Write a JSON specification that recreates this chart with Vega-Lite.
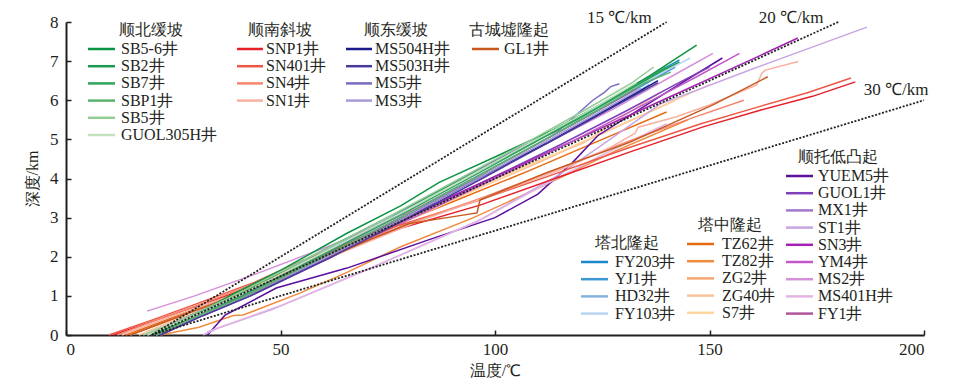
{
  "$schema": "https://vega.github.io/schema/vega-lite/v6.json",
  "width": 858,
  "height": 313,
  "autosize": "none",
  "padding": {"left": 66, "top": 22, "right": 35, "bottom": 52},
  "background": "white",
  "config": {"view": {"stroke": null}},
  "datasets": {
    "nb": [
      {"w":"SB5-6井","T":20,"z":0},{"w":"SB5-6井","T":28,"z":0.4},{"w":"SB5-6井","T":39,"z":1.05},{"w":"SB5-6井","T":50,"z":1.65},{"w":"SB5-6井","T":65.5,"z":2.6},{"w":"SB5-6井","T":78,"z":3.3},{"w":"SB5-6井","T":87,"z":3.9},{"w":"SB5-6井","T":101,"z":4.6},{"w":"SB5-6井","T":106,"z":4.86},{"w":"SB5-6井","T":113.5,"z":5.24},{"w":"SB5-6井","T":125,"z":5.9},{"w":"SB5-6井","T":136,"z":6.62},{"w":"SB5-6井","T":141,"z":6.98},{"w":"SB5-6井","T":147,"z":7.41},
      {"w":"SB2井","T":19,"z":0},{"w":"SB2井","T":29,"z":0.45},{"w":"SB2井","T":40,"z":1.02},{"w":"SB2井","T":57,"z":2.0},{"w":"SB2井","T":74,"z":2.95},{"w":"SB2井","T":90,"z":3.85},{"w":"SB2井","T":105,"z":4.7},{"w":"SB2井","T":119,"z":5.5},{"w":"SB2井","T":131,"z":6.25},{"w":"SB2井","T":139,"z":6.75},{"w":"SB2井","T":143,"z":6.98},
      {"w":"SB7井","T":20,"z":0},{"w":"SB7井","T":30,"z":0.45},{"w":"SB7井","T":41,"z":1.0},{"w":"SB7井","T":59,"z":2.0},{"w":"SB7井","T":76,"z":2.95},{"w":"SB7井","T":93,"z":3.95},{"w":"SB7井","T":108,"z":4.85},{"w":"SB7井","T":122,"z":5.7},{"w":"SB7井","T":133,"z":6.4},{"w":"SB7井","T":140,"z":6.85},
      {"w":"SBP1井","T":21,"z":0},{"w":"SBP1井","T":31,"z":0.5},{"w":"SBP1井","T":42,"z":1.0},{"w":"SBP1井","T":60,"z":2.0},{"w":"SBP1井","T":78,"z":3.0},{"w":"SBP1井","T":95,"z":4.0},{"w":"SBP1井","T":110,"z":4.9},{"w":"SBP1井","T":124,"z":5.75},{"w":"SBP1井","T":135,"z":6.45},{"w":"SBP1井","T":141,"z":6.72},
      {"w":"SB5井","T":18,"z":0},{"w":"SB5井","T":28,"z":0.45},{"w":"SB5井","T":39,"z":1.0},{"w":"SB5井","T":57,"z":2.0},{"w":"SB5井","T":74,"z":2.95},{"w":"SB5井","T":91,"z":3.95},{"w":"SB5井","T":107,"z":4.9},{"w":"SB5井","T":121,"z":5.75},{"w":"SB5井","T":132,"z":6.45},{"w":"SB5井","T":137,"z":6.85},
      {"w":"GUOL305H井","T":19,"z":0},{"w":"GUOL305H井","T":30,"z":0.5},{"w":"GUOL305H井","T":41,"z":1.05},{"w":"GUOL305H井","T":59,"z":2.05},{"w":"GUOL305H井","T":76,"z":3.0},{"w":"GUOL305H井","T":93,"z":4.0},{"w":"GUOL305H井","T":108,"z":4.9},{"w":"GUOL305H井","T":123,"z":5.8},{"w":"GUOL305H井","T":133,"z":6.45}
    ],
    "ns": [
      {"w":"SNP1井","T":11,"z":0},{"w":"SNP1井","T":21,"z":0.38},{"w":"SNP1井","T":32,"z":0.8},{"w":"SNP1井","T":45,"z":1.3},{"w":"SNP1井","T":56,"z":1.85},{"w":"SNP1井","T":78,"z":2.73},{"w":"SNP1井","T":96.5,"z":3.32},{"w":"SNP1井","T":114,"z":4.0},{"w":"SNP1井","T":131.5,"z":4.68},{"w":"SNP1井","T":148.5,"z":5.32},{"w":"SNP1井","T":162,"z":5.75},{"w":"SNP1井","T":174,"z":6.1},{"w":"SNP1井","T":184,"z":6.47},
      {"w":"SN401井","T":10,"z":0},{"w":"SN401井","T":20,"z":0.38},{"w":"SN401井","T":31,"z":0.82},{"w":"SN401井","T":44,"z":1.35},{"w":"SN401井","T":55,"z":1.9},{"w":"SN401井","T":77,"z":2.78},{"w":"SN401井","T":95,"z":3.4},{"w":"SN401井","T":113,"z":4.08},{"w":"SN401井","T":131,"z":4.78},{"w":"SN401井","T":148,"z":5.4},{"w":"SN401井","T":162,"z":5.85},{"w":"SN401井","T":173,"z":6.2},{"w":"SN401井","T":183,"z":6.57},
      {"w":"SN4井","T":12,"z":0},{"w":"SN4井","T":22,"z":0.42},{"w":"SN4井","T":33,"z":0.85},{"w":"SN4井","T":47,"z":1.45},{"w":"SN4井","T":60,"z":2.0},{"w":"SN4井","T":80,"z":2.85},{"w":"SN4井","T":98,"z":3.55},{"w":"SN4井","T":116,"z":4.3},{"w":"SN4井","T":131,"z":4.95},{"w":"SN4井","T":146,"z":5.55},{"w":"SN4井","T":158,"z":6.0},
      {"w":"SN1井","T":13,"z":0},{"w":"SN1井","T":24,"z":0.45},{"w":"SN1井","T":36,"z":0.9},{"w":"SN1井","T":50,"z":1.5},{"w":"SN1井","T":63,"z":2.05},{"w":"SN1井","T":82,"z":2.9},{"w":"SN1井","T":100,"z":3.6},{"w":"SN1井","T":117,"z":4.3},{"w":"SN1井","T":127,"z":4.8},{"w":"SN1井","T":132.6,"z":5.15},{"w":"SN1井","T":133.4,"z":5.31},{"w":"SN1井","T":142.3,"z":5.58},{"w":"SN1井","T":150,"z":5.88},{"w":"SN1井","T":161,"z":6.39},{"w":"SN1井","T":162.2,"z":6.69},{"w":"SN1井","T":163,"z":6.77},{"w":"SN1井","T":170.7,"z":6.99}
    ],
    "nd": [
      {"w":"MS504H井","T":21,"z":0},{"w":"MS504H井","T":31,"z":0.5},{"w":"MS504H井","T":42,"z":1.0},{"w":"MS504H井","T":61,"z":2.0},{"w":"MS504H井","T":79,"z":3.0},{"w":"MS504H井","T":96,"z":4.0},{"w":"MS504H井","T":112,"z":4.9},{"w":"MS504H井","T":126,"z":5.75},{"w":"MS504H井","T":138,"z":6.5},
      {"w":"MS503H井","T":22,"z":0},{"w":"MS503H井","T":32,"z":0.5},{"w":"MS503H井","T":43,"z":1.0},{"w":"MS503H井","T":62,"z":2.0},{"w":"MS503H井","T":80,"z":3.0},{"w":"MS503H井","T":97,"z":4.0},{"w":"MS503H井","T":113,"z":4.95},{"w":"MS503H井","T":128,"z":5.85},{"w":"MS503H井","T":138,"z":6.45},
      {"w":"MS5井","T":20,"z":0},{"w":"MS5井","T":30,"z":0.5},{"w":"MS5井","T":41,"z":1.0},{"w":"MS5井","T":59,"z":2.0},{"w":"MS5井","T":76,"z":3.0},{"w":"MS5井","T":92,"z":4.0},{"w":"MS5井","T":106,"z":4.8},{"w":"MS5井","T":115,"z":5.24},{"w":"MS5井","T":122.8,"z":6.0},{"w":"MS5井","T":125.5,"z":6.2},{"w":"MS5井","T":127,"z":6.35},{"w":"MS5井","T":129,"z":6.42},
      {"w":"MS3井","T":21,"z":0},{"w":"MS3井","T":31,"z":0.5},{"w":"MS3井","T":42,"z":1.0},{"w":"MS3井","T":61,"z":2.0},{"w":"MS3井","T":79,"z":3.0},{"w":"MS3井","T":96,"z":4.0},{"w":"MS3井","T":112,"z":4.95},{"w":"MS3井","T":126,"z":5.8},{"w":"MS3井","T":134,"z":6.3}
    ],
    "gc": [
      {"w":"GL1井","T":15,"z":0},{"w":"GL1井","T":27,"z":0.5},{"w":"GL1井","T":38,"z":0.95},{"w":"GL1井","T":55,"z":1.7},{"w":"GL1井","T":70,"z":2.4},{"w":"GL1井","T":80,"z":2.85},{"w":"GL1井","T":88.8,"z":3.0},{"w":"GL1井","T":95.8,"z":3.12},{"w":"GL1井","T":96.5,"z":3.45},{"w":"GL1井","T":112,"z":4.15},{"w":"GL1井","T":131.5,"z":4.93},{"w":"GL1井","T":150.8,"z":5.88},{"w":"GL1井","T":163.6,"z":6.6}
    ],
    "nt": [
      {"w":"YUEM5井","T":33,"z":0},{"w":"YUEM5井","T":35,"z":0.25},{"w":"YUEM5井","T":37,"z":0.5},{"w":"YUEM5井","T":49,"z":1.2},{"w":"YUEM5井","T":65.5,"z":1.71},{"w":"YUEM5井","T":85,"z":2.45},{"w":"YUEM5井","T":100,"z":3.0},{"w":"YUEM5井","T":110,"z":3.6},{"w":"YUEM5井","T":118,"z":4.4},{"w":"YUEM5井","T":124,"z":5.1},{"w":"YUEM5井","T":140.8,"z":6.26},{"w":"YUEM5井","T":153,"z":7.08},
      {"w":"GUOL1井","T":22,"z":0},{"w":"GUOL1井","T":32,"z":0.5},{"w":"GUOL1井","T":43,"z":1.0},{"w":"GUOL1井","T":62,"z":2.0},{"w":"GUOL1井","T":80,"z":3.0},{"w":"GUOL1井","T":98,"z":3.95},{"w":"GUOL1井","T":115,"z":4.85},{"w":"GUOL1井","T":131,"z":5.75},{"w":"GUOL1井","T":142,"z":6.4},{"w":"GUOL1井","T":150,"z":6.85},
      {"w":"MX1井","T":21,"z":0},{"w":"MX1井","T":31,"z":0.5},{"w":"MX1井","T":42,"z":1.0},{"w":"MX1井","T":61,"z":2.0},{"w":"MX1井","T":79,"z":3.0},{"w":"MX1井","T":96,"z":4.0},{"w":"MX1井","T":112,"z":4.9},{"w":"MX1井","T":127,"z":5.8},{"w":"MX1井","T":135,"z":6.3},
      {"w":"ST1井","T":32,"z":0},{"w":"ST1井","T":36,"z":0.2},{"w":"ST1井","T":48,"z":0.65},{"w":"ST1井","T":70,"z":1.66},{"w":"ST1井","T":96.5,"z":2.94},{"w":"ST1井","T":115,"z":4.1},{"w":"ST1井","T":126.8,"z":5.0},{"w":"ST1井","T":138.5,"z":5.9},{"w":"ST1井","T":160,"z":6.8},{"w":"ST1井","T":186.7,"z":7.87},
      {"w":"SN3井","T":19,"z":0},{"w":"SN3井","T":29,"z":0.5},{"w":"SN3井","T":39,"z":1.0},{"w":"SN3井","T":59,"z":2.0},{"w":"SN3井","T":79,"z":3.0},{"w":"SN3井","T":99,"z":4.0},{"w":"SN3井","T":119,"z":5.0},{"w":"SN3井","T":139,"z":6.0},{"w":"SN3井","T":159,"z":7.0},{"w":"SN3井","T":170.6,"z":7.59},
      {"w":"YM4井","T":20,"z":0},{"w":"YM4井","T":31,"z":0.5},{"w":"YM4井","T":42,"z":1.0},{"w":"YM4井","T":62,"z":2.0},{"w":"YM4井","T":81,"z":3.0},{"w":"YM4井","T":100,"z":4.0},{"w":"YM4井","T":118,"z":4.95},{"w":"YM4井","T":134,"z":5.85},{"w":"YM4井","T":147,"z":6.6},{"w":"YM4井","T":157,"z":7.2},
      {"w":"MS2井","T":18.9,"z":0.61},{"w":"MS2井","T":30,"z":1.0},{"w":"MS2井","T":44,"z":1.55},{"w":"MS2井","T":62,"z":2.3},{"w":"MS2井","T":80,"z":3.15},{"w":"MS2井","T":97,"z":4.05},{"w":"MS2井","T":113,"z":4.95},{"w":"MS2井","T":128,"z":5.8},{"w":"MS2井","T":141,"z":6.6},{"w":"MS2井","T":150.8,"z":7.2},
      {"w":"MS401H井","T":32.8,"z":0.08},{"w":"MS401H井","T":35.9,"z":0.2},{"w":"MS401H井","T":50,"z":0.75},{"w":"MS401H井","T":70,"z":1.66},{"w":"MS401H井","T":96.5,"z":2.94},{"w":"MS401H井","T":110,"z":3.75},{"w":"MS401H井","T":125,"z":4.6},{"w":"MS401H井","T":140,"z":5.4},
      {"w":"FY1井","T":21,"z":0},{"w":"FY1井","T":31,"z":0.5},{"w":"FY1井","T":42,"z":1.0},{"w":"FY1井","T":60,"z":2.0},{"w":"FY1井","T":78,"z":3.0},{"w":"FY1井","T":95,"z":4.0},{"w":"FY1井","T":111,"z":4.95},{"w":"FY1井","T":125,"z":5.8},{"w":"FY1井","T":133,"z":6.3}
    ],
    "tb": [
      {"w":"FY203井","T":20,"z":0},{"w":"FY203井","T":30,"z":0.5},{"w":"FY203井","T":41,"z":1.05},{"w":"FY203井","T":58,"z":2.0},{"w":"FY203井","T":75,"z":2.95},{"w":"FY203井","T":92,"z":3.95},{"w":"FY203井","T":108,"z":4.9},{"w":"FY203井","T":123,"z":5.8},{"w":"FY203井","T":136,"z":6.6},{"w":"FY203井","T":143,"z":7.03},
      {"w":"YJ1井","T":21,"z":0},{"w":"YJ1井","T":31,"z":0.5},{"w":"YJ1井","T":43,"z":1.05},{"w":"YJ1井","T":60,"z":2.0},{"w":"YJ1井","T":77,"z":2.95},{"w":"YJ1井","T":94,"z":3.95},{"w":"YJ1井","T":110,"z":4.9},{"w":"YJ1井","T":125,"z":5.8},{"w":"YJ1井","T":138,"z":6.6},{"w":"YJ1井","T":142,"z":6.85},
      {"w":"HD32井","T":20,"z":0},{"w":"HD32井","T":31,"z":0.5},{"w":"HD32井","T":42,"z":1.0},{"w":"HD32井","T":61,"z":2.0},{"w":"HD32井","T":79,"z":3.0},{"w":"HD32井","T":96,"z":4.0},{"w":"HD32井","T":112,"z":4.95},{"w":"HD32井","T":127,"z":5.85},{"w":"HD32井","T":136,"z":6.4},
      {"w":"FY103井","T":20,"z":0},{"w":"FY103井","T":30,"z":0.5},{"w":"FY103井","T":42,"z":1.05},{"w":"FY103井","T":60,"z":2.05},{"w":"FY103井","T":78,"z":3.0},{"w":"FY103井","T":95,"z":4.0},{"w":"FY103井","T":111,"z":4.95},{"w":"FY103井","T":126,"z":5.9},{"w":"FY103井","T":138,"z":6.65},{"w":"FY103井","T":145.5,"z":7.08}
    ],
    "tz": [
      {"w":"TZ62井","T":14,"z":0},{"w":"TZ62井","T":25,"z":0.45},{"w":"TZ62井","T":37,"z":0.95},{"w":"TZ62井","T":55,"z":1.8},{"w":"TZ62井","T":73,"z":2.65},{"w":"TZ62井","T":90,"z":3.4},{"w":"TZ62井","T":108,"z":4.2},{"w":"TZ62井","T":125,"z":5.0},{"w":"TZ62井","T":140,"z":5.7},
      {"w":"TZ82井","T":22,"z":0},{"w":"TZ82井","T":31,"z":0.2},{"w":"TZ82井","T":39,"z":0.5},{"w":"TZ82井","T":41.3,"z":0.51},{"w":"TZ82井","T":54.5,"z":1.07},{"w":"TZ82井","T":65.5,"z":1.6},{"w":"TZ82井","T":77.9,"z":2.25},{"w":"TZ82井","T":95,"z":3.0},{"w":"TZ82井","T":112,"z":3.85},{"w":"TZ82井","T":128,"z":4.7},{"w":"TZ82井","T":145,"z":5.5},
      {"w":"ZG2井","T":15,"z":0},{"w":"ZG2井","T":26,"z":0.45},{"w":"ZG2井","T":37,"z":0.9},{"w":"ZG2井","T":56,"z":1.85},{"w":"ZG2井","T":75,"z":2.75},{"w":"ZG2井","T":93,"z":3.6},{"w":"ZG2井","T":111,"z":4.45},{"w":"ZG2井","T":128,"z":5.3},{"w":"ZG2井","T":142,"z":6.0},
      {"w":"ZG40井","T":17,"z":0},{"w":"ZG40井","T":28,"z":0.5},{"w":"ZG40井","T":39,"z":1.0},{"w":"ZG40井","T":58,"z":1.95},{"w":"ZG40井","T":77,"z":2.9},{"w":"ZG40井","T":96,"z":3.8},{"w":"ZG40井","T":110,"z":4.45},{"w":"ZG40井","T":120.5,"z":4.9},{"w":"ZG40井","T":130,"z":5.6},{"w":"ZG40井","T":138.5,"z":6.2},
      {"w":"S7井","T":20,"z":0},{"w":"S7井","T":30,"z":0.48},{"w":"S7井","T":40,"z":0.97},{"w":"S7井","T":60,"z":1.95},{"w":"S7井","T":80,"z":2.95},{"w":"S7井","T":100,"z":3.93},{"w":"S7井","T":120,"z":4.92},{"w":"S7井","T":140,"z":5.9},{"w":"S7井","T":150,"z":6.4}
    ],
    "ref": [
      {"r":"15","T":20,"z":0},{"r":"15","T":140,"z":8},
      {"r":"20","T":20,"z":0},{"r":"20","T":180,"z":8},
      {"r":"30","T":20,"z":0},{"r":"30","T":200,"z":6}
    ],
    "lab": [
      {"t":"15 ℃/km","T":129,"z":8.1},
      {"t":"20 ℃/km","T":169,"z":8.1},
      {"t":"30 ℃/km","T":193.5,"z":6.27}
    ]
  },
  "layer": [
    {
      "data": {"name": "tb"},
      "mark": {"type": "line", "strokeWidth": 1.5},
      "encoding": {
        "x": {"field": "T", "type": "quantitative", "scale": {"domain": [0, 200], "nice": false, "zero": false},
              "axis": {"title": "温度/℃", "values": [0, 50, 100, 150, 200], "grid": false, "labelOverlap": false,
                       "domainColor": "#231f20", "domainWidth": 2, "tickColor": "#231f20", "tickWidth": 1.5, "tickSize": -5,
                       "labelFont": "Liberation Serif", "labelFontSize": 17, "labelColor": "#231f20", "labelPadding": 11,
                       "titleFont": "Liberation Serif", "titleFontSize": 16, "titleFontWeight": "normal", "titleColor": "#231f20", "titlePadding": 5}},
        "y": {"field": "z", "type": "quantitative", "scale": {"domain": [0, 8], "nice": false},
              "axis": {"title": "深度/km", "tickCount": 8, "grid": false, "labelOverlap": false,
                       "domainColor": "#231f20", "domainWidth": 2, "tickColor": "#231f20", "tickWidth": 1.5, "tickSize": -5,
                       "labelFont": "Liberation Serif", "labelFontSize": 17, "labelColor": "#231f20", "labelPadding": 13,
                       "titleFont": "Liberation Serif", "titleFontSize": 16, "titleFontWeight": "normal", "titleColor": "#231f20", "titlePadding": 9}},
        "order": {"field": "z"},
        "color": {"field": "w", "type": "nominal",
          "scale": {"domain": ["FY203井","YJ1井","HD32井","FY103井"], "range": ["#1c87c9","#3f98d6","#86b3dd","#b9d4ef"]},
          "legend": {"title": "塔北隆起", "orient": "none", "legendX": 512, "legendY": 213, "padding": 0,
                     "symbolType": "M-1,0H4.4", "symbolSize": 100, "symbolStrokeWidth": 2.5, "rowPadding": 1.2, "labelOffset": 21,
                     "labelFont": "Liberation Serif", "labelFontSize": 16, "labelColor": "#231f20", "labelLimit": 220,
                     "titleFont": "Liberation Serif", "titleFontSize": 16, "titleFontWeight": "normal", "titleColor": "#231f20", "titleAnchor": "middle", "titlePadding": 3}}
      }
    },
    {
      "data": {"name": "tz"},
      "mark": {"type": "line", "strokeWidth": 1.5},
      "encoding": {
        "x": {"field": "T", "type": "quantitative"},
        "y": {"field": "z", "type": "quantitative"},
        "order": {"field": "z"},
        "color": {"field": "w", "type": "nominal",
          "scale": {"domain": ["TZ62井","TZ82井","ZG2井","ZG40井","S7井"], "range": ["#e66a10","#f08a3c","#f5a572","#f9c49c","#fdd6a2"]},
          "legend": {"title": "塔中隆起", "orient": "none", "legendX": 618, "legendY": 195, "padding": 0,
                     "symbolType": "M-1,0H4.4", "symbolSize": 100, "symbolStrokeWidth": 2.5, "rowPadding": 1.2, "labelOffset": 22,
                     "labelFont": "Liberation Serif", "labelFontSize": 16, "labelColor": "#231f20", "labelLimit": 220,
                     "titleFont": "Liberation Serif", "titleFontSize": 16, "titleFontWeight": "normal", "titleColor": "#231f20", "titleAnchor": "middle", "titlePadding": 3}}
      }
    },
    {
      "data": {"name": "nt"},
      "mark": {"type": "line", "strokeWidth": 1.5},
      "encoding": {
        "x": {"field": "T", "type": "quantitative"},
        "y": {"field": "z", "type": "quantitative"},
        "order": {"field": "z"},
        "color": {"field": "w", "type": "nominal",
          "scale": {"domain": ["YUEM5井","GUOL1井","MX1井","ST1井","SN3井","YM4井","MS2井","MS401H井","FY1井"], "range": ["#5b0f9e","#7d40b8","#a377cc","#c7a5e3","#a321b3","#c456c9","#d68fd9","#e4b5e4","#b2559a"]},
          "legend": {"title": "顺托低凸起", "orient": "none", "legendX": 717, "legendY": 127, "padding": 0,
                     "symbolType": "M-1,0H4.4", "symbolSize": 100, "symbolStrokeWidth": 2.5, "rowPadding": 1.2, "labelOffset": 19,
                     "labelFont": "Liberation Serif", "labelFontSize": 16, "labelColor": "#231f20", "labelLimit": 220,
                     "titleFont": "Liberation Serif", "titleFontSize": 16, "titleFontWeight": "normal", "titleColor": "#231f20", "titleAnchor": "middle", "titlePadding": 3}}
      }
    },
    {
      "data": {"name": "ns"},
      "mark": {"type": "line", "strokeWidth": 1.5},
      "encoding": {
        "x": {"field": "T", "type": "quantitative"},
        "y": {"field": "z", "type": "quantitative"},
        "order": {"field": "z"},
        "color": {"field": "w", "type": "nominal",
          "scale": {"domain": ["SNP1井","SN401井","SN4井","SN1井"], "range": ["#e6212a","#ee5746","#f5866e","#f9b0a0"]},
          "legend": {"title": "顺南斜坡", "orient": "none", "legendX": 168, "legendY": 0, "padding": 0,
                     "symbolType": "M-1,0H4.2", "symbolSize": 100, "symbolStrokeWidth": 2.5, "rowPadding": 1.2, "labelOffset": 16,
                     "labelFont": "Liberation Serif", "labelFontSize": 16, "labelColor": "#231f20", "labelLimit": 220,
                     "titleFont": "Liberation Serif", "titleFontSize": 16, "titleFontWeight": "normal", "titleColor": "#231f20", "titleAnchor": "middle", "titlePadding": 3}}
      }
    },
    {
      "data": {"name": "gc"},
      "mark": {"type": "line", "strokeWidth": 1.5},
      "encoding": {
        "x": {"field": "T", "type": "quantitative"},
        "y": {"field": "z", "type": "quantitative"},
        "order": {"field": "z"},
        "color": {"field": "w", "type": "nominal",
          "scale": {"domain": ["GL1井"], "range": ["#c8581e"]},
          "legend": {"title": "古城墟隆起", "orient": "none", "legendX": 403, "legendY": 0, "padding": 0,
                     "symbolType": "M-1,0H4.4", "symbolSize": 100, "symbolStrokeWidth": 2.5, "rowPadding": 1.2, "labelOffset": 19,
                     "labelFont": "Liberation Serif", "labelFontSize": 16, "labelColor": "#231f20", "labelLimit": 220,
                     "titleFont": "Liberation Serif", "titleFontSize": 16, "titleFontWeight": "normal", "titleColor": "#231f20", "titleAnchor": "middle", "titlePadding": 3}}
      }
    },
    {
      "data": {"name": "nd"},
      "mark": {"type": "line", "strokeWidth": 1.5},
      "encoding": {
        "x": {"field": "T", "type": "quantitative"},
        "y": {"field": "z", "type": "quantitative"},
        "order": {"field": "z"},
        "color": {"field": "w", "type": "nominal",
          "scale": {"domain": ["MS504H井","MS503H井","MS5井","MS3井"], "range": ["#1b1a8c","#4a3a9e","#7a6ac0","#a99bd8"]},
          "legend": {"title": "顺东缓坡", "orient": "none", "legendX": 277, "legendY": 0, "padding": 0,
                     "symbolType": "M-1,0H4.2", "symbolSize": 100, "symbolStrokeWidth": 2.5, "rowPadding": 1.2, "labelOffset": 16,
                     "labelFont": "Liberation Serif", "labelFontSize": 16, "labelColor": "#231f20", "labelLimit": 220,
                     "titleFont": "Liberation Serif", "titleFontSize": 16, "titleFontWeight": "normal", "titleColor": "#231f20", "titleAnchor": "middle", "titlePadding": 3}}
      }
    },
    {
      "data": {"name": "nb"},
      "mark": {"type": "line", "strokeWidth": 1.5},
      "encoding": {
        "x": {"field": "T", "type": "quantitative"},
        "y": {"field": "z", "type": "quantitative"},
        "order": {"field": "z"},
        "color": {"field": "w", "type": "nominal",
          "scale": {"domain": ["SB5-6井","SB2井","SB7井","SBP1井","SB5井","GUOL305H井"], "range": ["#0b9444","#1a9a50","#2ea55a","#5cb26f","#93cc94","#c3e3bd"]},
          "legend": {"title": "顺北缓坡", "orient": "none", "legendX": 19, "legendY": 0, "padding": 0,
                     "symbolType": "M-1,0H4.4", "symbolSize": 100, "symbolStrokeWidth": 2.5, "rowPadding": 1.2, "labelOffset": 20,
                     "labelFont": "Liberation Serif", "labelFontSize": 16, "labelColor": "#231f20", "labelLimit": 220,
                     "titleFont": "Liberation Serif", "titleFontSize": 16, "titleFontWeight": "normal", "titleColor": "#231f20", "titleAnchor": "middle", "titlePadding": 3}}
      }
    },
    {
      "data": {"name": "ref"},
      "mark": {"type": "line", "color": "#222222", "strokeDash": [2, 1.6], "strokeWidth": 1.8},
      "encoding": {
        "x": {"field": "T", "type": "quantitative"},
        "y": {"field": "z", "type": "quantitative"},
        "detail": {"field": "r", "type": "nominal"}
      }
    },
    {
      "data": {"name": "lab"},
      "mark": {"type": "text", "font": "Liberation Serif", "fontSize": 17, "color": "#231f20", "align": "center", "baseline": "middle"},
      "encoding": {
        "x": {"field": "T", "type": "quantitative"},
        "y": {"field": "z", "type": "quantitative"},
        "text": {"field": "t", "type": "nominal"}
      }
    }
  ],
  "resolve": {"scale": {"color": "independent"}, "legend": {"color": "independent"}}
}
